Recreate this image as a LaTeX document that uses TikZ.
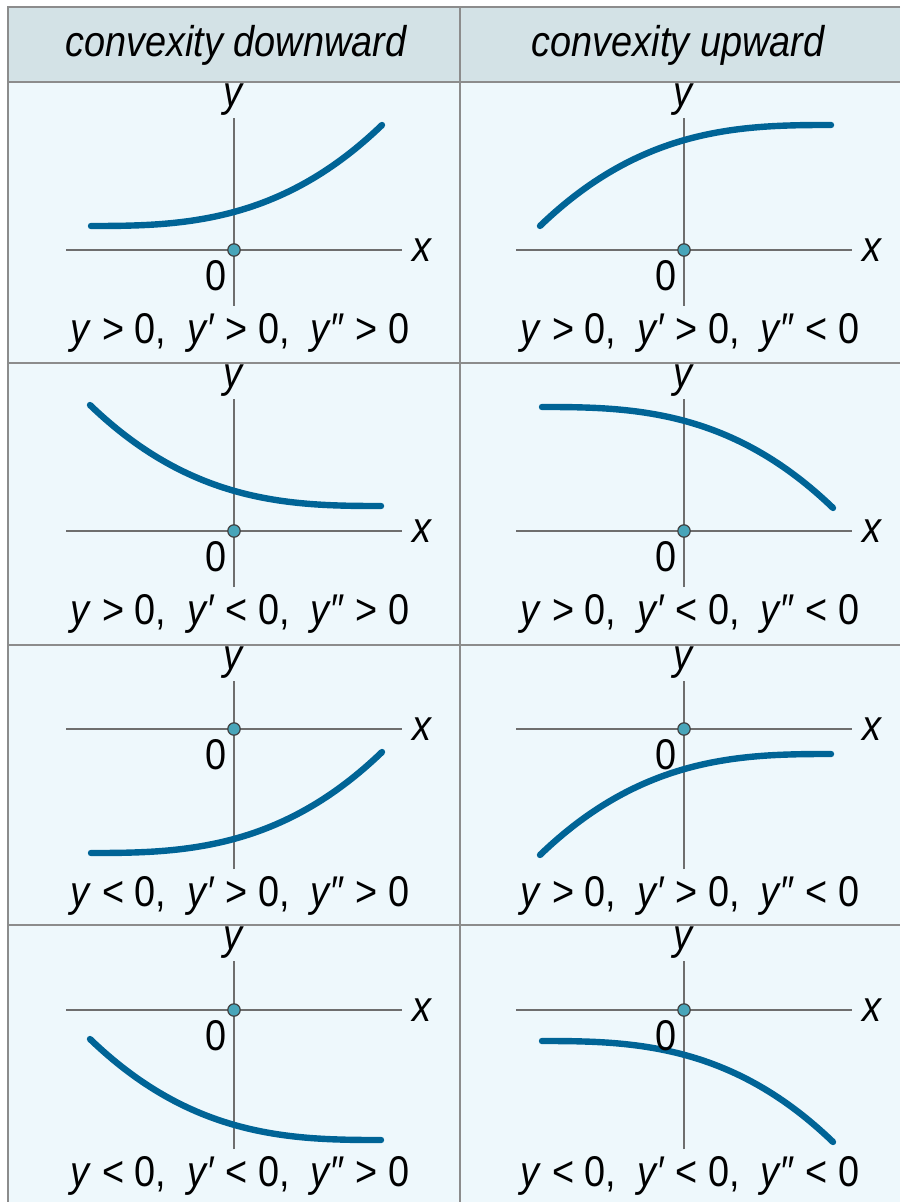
\documentclass[tikz,border=0pt]{standalone}
\usepackage{fontspec}
\setmainfont{Liberation Sans}[FakeStretch=0.88]
\usetikzlibrary{positioning}

\definecolor{headbg}{RGB}{211,226,230}
\definecolor{cellbg}{RGB}{238,248,252}
\definecolor{curveblue}{RGB}{0,100,150}
\definecolor{dotfill}{RGB}{72,165,185}
\definecolor{gridgray}{RGB}{140,140,140}
\definecolor{axisgray}{RGB}{110,110,110}

\newcommand{\condline}[3]{\textit{y} #1 0,\ \ \textit{y}′ #2 0,\ \ \textit{y}″ #3 0}

\begin{document}
\begin{tikzpicture}[x=0.5pt,y=-0.5pt,
  grid/.style={gridgray, line width=0.8pt},
  axis/.style={axisgray, line width=0.7pt},
  graph/.style={curveblue, line width=3.2pt, line cap=round},
  origin/.style={circle, draw=black!75, fill=dotfill, line width=0.6pt, minimum size=6.2pt, inner sep=0pt},
  lbl/.style={font=\fontsize{21.5}{24}\selectfont, inner sep=0pt}]

\useasboundingbox (0,0) rectangle (900,1202);
\fill[cellbg] (8,82) rectangle (900,1202);
\fill[headbg] (8,7) rectangle (900,82);
\draw[grid] (900,7) -- (8,7) -- (8,1202);
\draw[grid] (460,7) -- (460,1202);
\foreach \y in {82,363,645,925}
  \draw[grid] (8,\y) -- (900,\y);

\node[lbl, font=\fontsize{21.5}{24}\selectfont\itshape] (head-l) at (236,45) {convexity downward};
\node[lbl, font=\fontsize{21.5}{24}\selectfont\itshape] (head-r) at (678,45) {convexity upward};

% one cell per entry: number/column/row top/x-axis/curve start and directions/signs
\foreach \n/\cx/\rt/\ax/\xs/\sx/\ys/\sy/\ra/\rb/\rc in {
  1/0/82/250/90/1/226/-1/>/>/>,
  2/450/82/250/832/-1/125/1/>/>/<,
  3/0/363/531/382/-1/506/-1/>/</>,
  4/450/363/531/541/1/407/1/>/</<,
  5/0/645/729/90/1/853/-1/</>/>,
  6/450/645/729/832/-1/754/1/>/>/<,
  7/0/925/1010/382/-1/1140/-1/</</>,
  8/450/925/1010/541/1/1041/1/</</<}{
  \coordinate (xl-\n) at (\cx+66,\ax);
  \coordinate (xr-\n) at (\cx+402,\ax);
  \coordinate (yt-\n) at (\cx+234,\rt+36);
  \coordinate (yb-\n) at (\cx+234,\rt+224);
  \draw[axis] (xl-\n) -- (xr-\n);
  \draw[axis] (yb-\n) -- (yt-\n);
  \draw[graph] plot[domain=1:292, samples=60, smooth]
    ({\xs+\sx*\x},{\ys+\sy*101*(\x/292)^2.79});
  \node[origin] (o-\n) at (\cx+234,\ax) {};
  \node[lbl, right=5pt of xr-\n] (xlab-\n) {\textit{x}};
  \node[lbl, anchor=south, above=1pt of yt-\n] (ylab-\n) {\textit{y}};
  \node[lbl] (zero-\n) at (\cx+216,\ax+26) {0};
  \node[lbl] (cond-\n) at (\cx+240,\rt+251) {\condline{\ra}{\rb}{\rc}};
}
\end{tikzpicture}
\end{document}
